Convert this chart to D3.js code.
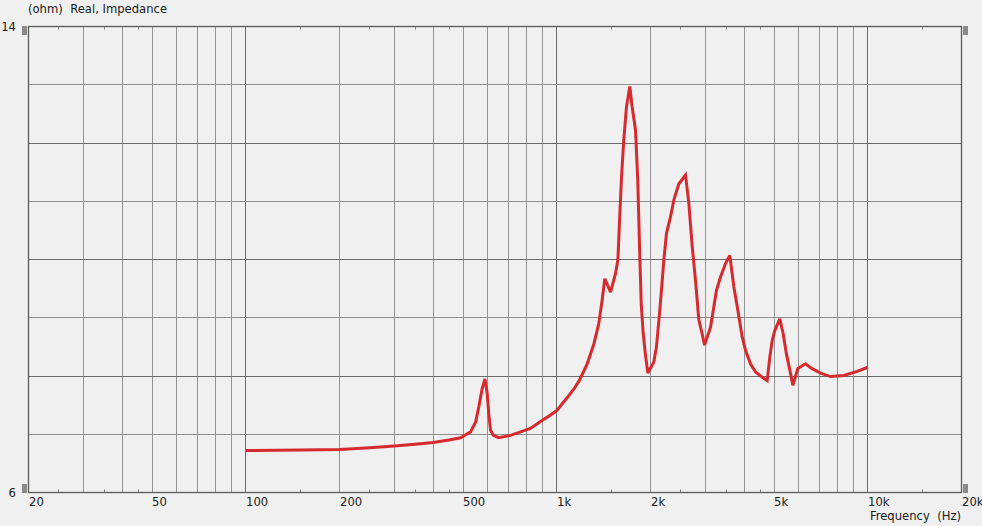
<!DOCTYPE html>
<html>
<head>
<meta charset="utf-8">
<script src="https://cdn.jsdelivr.net/npm/d3@7"></script>
<style>
  html, body { margin: 0; padding: 0; background: #f0f0f0; }
  svg { display: block; }
  text { font-family: "DejaVu Sans", Verdana, sans-serif; font-size: 11.6px; fill: #1a1a1a; }
</style>
</head>
<body>
<svg id="chart" width="982" height="526"></svg>
<script>
// ---- data ----
const freqs = [100,150,200,250,300,350,400,450,490,528,548,561,575,587,597,604,612,625,650,709,764,822,886,954,1000,1080,1139,1180,1250,1315,1364,1398,1426,1488,1544,1571,1594,1614,1641,1674,1716,1746,1790,1820,1843,1867,1895,1925,1961,2050,2090,2143,2208,2251,2319,2377,2467,2592,2657,2724,2791,2861,2930,2984,3120,3260,3358,3485,3598,3707,3818,3943,4041,4193,4352,4571,4745,4840,4925,5020,5209,5339,5470,5611,5738,5955,6300,6600,7043,7584,8369,9237,10000];
const impedance = [6.72,6.73,6.74,6.77,6.80,6.83,6.86,6.90,6.94,7.04,7.21,7.47,7.78,7.95,7.70,7.35,7.07,6.98,6.94,6.98,7.04,7.10,7.22,7.33,7.41,7.63,7.79,7.92,8.20,8.55,8.90,9.30,9.67,9.44,9.76,9.99,10.79,11.42,12.05,12.62,12.97,12.62,12.22,11.36,10.27,9.24,8.73,8.38,8.05,8.24,8.50,9.13,9.99,10.45,10.73,11.02,11.30,11.45,10.96,10.22,9.64,8.96,8.73,8.53,8.84,9.47,9.70,9.93,10.07,9.53,9.13,8.67,8.44,8.21,8.07,7.98,7.92,8.33,8.61,8.78,8.98,8.73,8.38,8.10,7.84,8.13,8.21,8.13,8.05,7.99,8.01,8.08,8.15];
const xTickValues = [20,50,100,200,500,1000,2000,5000,10000,20000];
const xTickLabels = ["20","50","100","200","500","1k","2k","5k","10k","20k"];
const xGridValues = [30,40,50,60,70,80,90,100,200,300,400,500,600,700,800,900,1000,2000,3000,4000,5000,6000,7000,8000,9000,10000];
const xMinorTicks = [25,35,45,150,250,350,450,1500,2500,3500,4500,15000];
const yGridValues = [7,8,9,10,11,12,13];
const yTickLabels = ["6","14"];
const yTickValues = [6,14];
const yTitle = "(ohm)  Real, Impedance";
const xTitle = "Frequency  (Hz)";

// ---- drawing ----
const svg = d3.select("#chart");
const L = 28.5, R = 961.5, T = 26.5, B = 492.5;
const x = d3.scaleLog().domain([20, 20000]).range([L, R]);
const y = d3.scaleLinear().domain([6, 14]).range([B, T]);
const px = v => Math.round(x(v) - 0.5) + 0.5;
const py = v => Math.round(y(v) - 0.5) + 0.5;

const decades = new Set([100, 1000, 10000]);
// vertical grid
svg.append("g").selectAll("line").data(xGridValues).join("line")
  .attr("x1", d => px(d)).attr("x2", d => px(d))
  .attr("y1", T).attr("y2", B)
  .attr("stroke", d => decades.has(d) ? "#6a6a6a" : "#959595")
  .attr("stroke-width", 1);
// horizontal grid
svg.append("g").selectAll("line").data(yGridValues).join("line")
  .attr("x1", L).attr("x2", R)
  .attr("y1", d => py(d)).attr("y2", d => py(d))
  .attr("stroke", d => d % 2 === 0 ? "#6a6a6a" : "#8e8e8e")
  .attr("stroke-width", 1);

// minor ticks top & bottom
const mt = svg.append("g").attr("stroke", "#808080").attr("stroke-width", 1);
mt.selectAll("line.b").data(xMinorTicks).join("line").attr("class", "b")
  .attr("x1", d => px(d)).attr("x2", d => px(d)).attr("y1", B - 3).attr("y2", B);
mt.selectAll("line.t").data(xMinorTicks).join("line").attr("class", "t")
  .attr("x1", d => px(d)).attr("x2", d => px(d)).attr("y1", T).attr("y2", T + 3);

// frame
svg.append("rect").attr("x", L).attr("y", T).attr("width", R - L).attr("height", B - T)
  .attr("fill", "none").attr("stroke", "#5a5a5a").attr("stroke-width", 1.3);

// curve
const line = d3.line().x((d, i) => x(freqs[i])).y(d => y(d));
svg.append("path").datum(impedance).attr("d", line)
  .attr("fill", "none").attr("stroke", "#d62a2e").attr("stroke-width", 3)
  .attr("stroke-linejoin", "miter").attr("stroke-miterlimit", 3);

// handles
const handles = [[22, 26], [22, 484], [963, 26], [963, 484]];
svg.append("g").selectAll("rect").data(handles).join("rect")
  .attr("x", d => d[0]).attr("y", d => d[1]).attr("width", 5).attr("height", 9)
  .attr("fill", "#8a8a8a");

// x labels
svg.append("g").selectAll("text").data(xTickValues).join("text")
  .attr("x", d => Math.round(x(d))).attr("y", 506)
  .attr("text-anchor", "start")
  .text((d, i) => xTickLabels[i]);
// y labels
svg.append("g").selectAll("text").data(yTickValues).join("text")
  .attr("x", 16).attr("y", d => y(d) + 4)
  .attr("text-anchor", "end")
  .text((d, i) => yTickLabels[i]);

svg.append("text").attr("x", 28).attr("y", 13).text(yTitle).style("white-space", "pre").attr("xml:space", "preserve");
svg.append("text").attr("x", 961).attr("y", 520).attr("text-anchor", "end").attr("xml:space", "preserve").style("white-space", "pre").text(xTitle);
</script>
</body>
</html>
